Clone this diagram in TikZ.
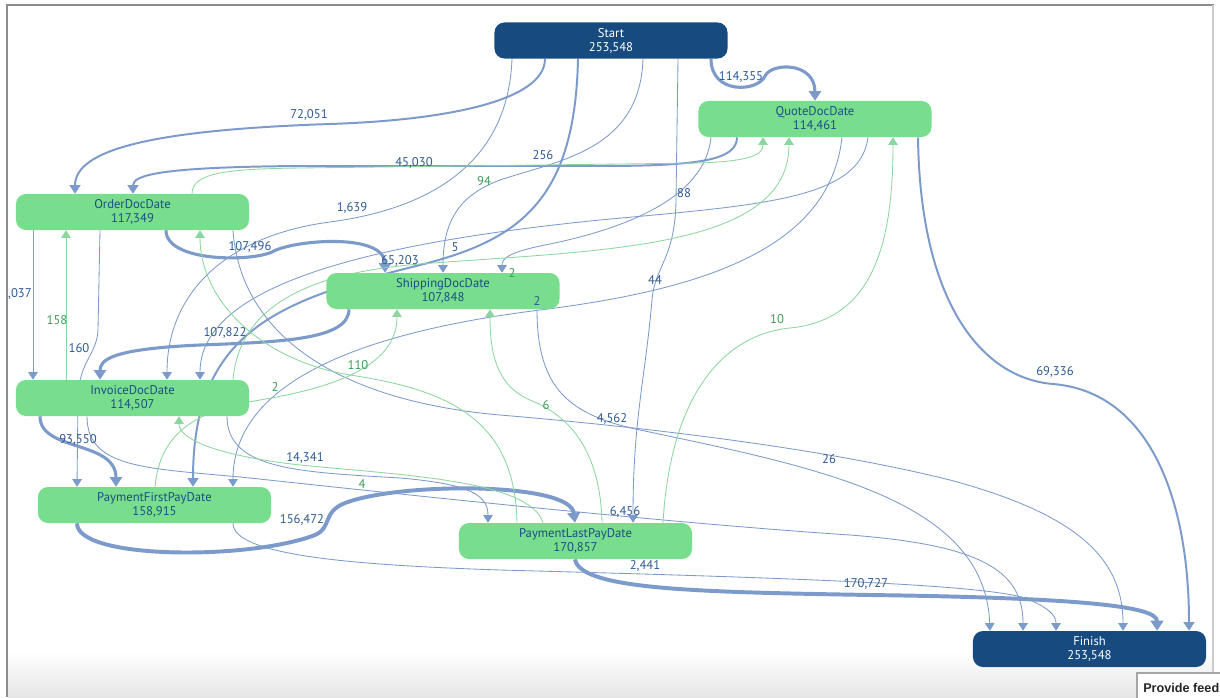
\documentclass[tikz,border=0pt]{standalone}
\usepackage{fontspec}
\setmainfont{PT Sans}
\newfontfamily\btnfont{Liberation Sans}
\usetikzlibrary{arrows.meta,backgrounds}

\definecolor{actgreen}{HTML}{78DD8C}
\definecolor{acttext}{HTML}{1B4F84}
\definecolor{endblue}{HTML}{174A7E}
\definecolor{edgeblue}{HTML}{7C9BCB}
\definecolor{edgegreen}{HTML}{8DD6A0}
\definecolor{lblblue}{HTML}{2E5A94}
\definecolor{lblgreen}{HTML}{3F9D55}

\tikzset{
  act/.style={rectangle, rounded corners=0.25cm, fill=actgreen, text=acttext,
    minimum width=5.825cm, minimum height=0.9cm, inner sep=0pt, align=center,
    font=\fontsize{9}{10}\selectfont},
  ends/.style={act, fill=endblue, text=white},
  fwd/.style={draw=edgeblue, line width=0.6pt, -{Triangle[width=6.3pt 1, length=5pt 0.8]}},
  midfwd/.style={fwd, line width=1.4pt},
  thickfwd/.style={fwd, line width=2.2pt},
  heavyfwd/.style={fwd, line width=2.8pt},
  bwd/.style={draw=edgegreen, line width=0.6pt, -{Triangle[width=6.3pt 1, length=5pt 0.8]}},
  cnt/.style={text=lblblue, font=\fontsize{9}{10}\selectfont, inner sep=1pt},
  bcnt/.style={cnt, text=lblgreen},
}

\begin{document}
\begin{tikzpicture}[x=0.025cm, y=-0.025cm]
  \useasboundingbox (0,0) rectangle (1220,697);

  % activities
  \node[ends] (start)    at (611,40.5)  {Start\\253,548};
  \node[act]  (quote)    at (815,119)   {QuoteDocDate\\114,461};
  \node[act]  (order)    at (132.5,212) {OrderDocDate\\117,349};
  \node[act]  (ship)     at (443,291)   {ShippingDocDate\\107,848};
  \node[act]  (invoice)  at (132.5,398) {InvoiceDocDate\\114,507};
  \node[act]  (payfirst) at (154.5,505) {PaymentFirstPayDate\\158,915};
  \node[act]  (paylast)  at (575.5,541) {PaymentLastPayDate\\170,857};
  \node[ends] (finish)   at (1089.5,649){Finish\\253,548};

  \begin{scope}[on background layer]
    % frame of the view
    \fill[white] (0,0) rectangle (1220,697);
    \shade[top color=white, bottom color=black!10] (8,652) rectangle (1212,697);
    \draw[black!45, line width=1.4pt] (7,697) -- (7,5) -- (1214,5);
    \draw[black!20, line width=1.5pt] (1213,5) -- (1213,697);

    % from Start
    \draw[midfwd] (545,0 |- start.south) .. controls (545,100) and (450,120) .. (330,124)
      .. controls (150,130) and (75,150) .. (75,0 |- order.north);
    \draw[thickfwd] (711,0 |- start.south) .. controls (711,95) and (758,92) .. (765,76)
      .. controls (772,62) and (815,62) .. (815,0 |- quote.north);
    \draw[midfwd] (578,0 |- start.south) .. controls (575,200) and (520,240) .. (420,265)
      .. controls (280,300) and (193,330) .. (193,0 |- payfirst.north);
    \draw[fwd] (512,0 |- start.south) .. controls (508,170) and (420,210) .. (330,222)
      .. controls (230,235) and (167,290) .. (167,0 |- invoice.north);
    \draw[fwd] (643,0 |- start.south) .. controls (640,150) and (560,160) .. (500,180)
      .. controls (460,195) and (443,220) .. (443,0 |- ship.north);
    \draw[fwd] (678,0 |- start.south) -- (676,200) .. controls (675,260) and (655,265) .. (652,300)
      .. controls (645,380) and (633,420) .. (633,0 |- paylast.north);

    % from QuoteDocDate
    \draw[midfwd] (737,0 |- quote.south) .. controls (737,160) and (700,166) .. (600,166)
      -- (300,166) .. controls (160,167) and (133,175) .. (133,0 |- order.north);
    \draw[fwd] (711,0 |- quote.south) .. controls (705,200) and (620,230) .. (545,245)
      .. controls (510,252) and (502,258) .. (502,0 |- ship.north);
    \draw[fwd] (868,0 |- quote.south) .. controls (860,200) and (760,205) .. (600,220)
      .. controls (350,245) and (200,290) .. (200,0 |- invoice.north);
    \draw[fwd] (842,0 |- quote.south) .. controls (830,250) and (700,290) .. (540,310)
      .. controls (340,335) and (233,390) .. (233,0 |- payfirst.north);
    \draw[midfwd] (918,0 |- quote.south) .. controls (920,300) and (980,378) .. (1053,384)
      .. controls (1150,392) and (1189,500) .. (1189,0 |- finish.north);

    % from OrderDocDate
    \draw[fwd] (33,0 |- order.south) -- (33,0 |- invoice.north);
    \draw[fwd] (100,0 |- order.south) -- (98,330) .. controls (97,355) and (78,362) .. (78,400)
      -- (77,0 |- payfirst.north);
    \draw[thickfwd] (166,0 |- order.south) .. controls (166,262) and (250,262) .. (272,252)
      .. controls (292,240) and (385,232) .. (385,0 |- ship.north);
    \draw[fwd] (233,0 |- order.south) .. controls (240,330) and (330,400) .. (500,415)
      .. controls (700,432) and (850,455) .. (950,480)
      .. controls (1080,515) and (1123,560) .. (1123,0 |- finish.north);

    % from ShippingDocDate
    \draw[thickfwd] (349,0 |- ship.south) .. controls (349,340) and (280,342) .. (200,345)
      .. controls (110,349) and (100,360) .. (100,0 |- invoice.north);
    \draw[fwd] (537,0 |- ship.south) .. controls (537,390) and (570,415) .. (640,430)
      .. controls (820,468) and (985,500) .. (990,0 |- finish.north);

    % from InvoiceDocDate
    \draw[thickfwd] (40,0 |- invoice.south) .. controls (40,452) and (116,440) .. (116,0 |- payfirst.north);
    \draw[fwd] (87,0 |- invoice.south) .. controls (87,470) and (150,468) .. (250,478)
      .. controls (500,505) and (700,525) .. (850,535)
      .. controls (980,545) and (1023,570) .. (1023,0 |- finish.north);
    \draw[fwd] (227,0 |- invoice.south) .. controls (227,470) and (300,472) .. (400,478)
      .. controls (470,484) and (488,495) .. (488,0 |- paylast.north);

    % from the payments
    \draw[heavyfwd] (77,0 |- payfirst.south) .. controls (77,560) and (250,560) .. (315,535)
      .. controls (332,528) and (322,512) .. (345,503)
      .. controls (400,482) and (570,482) .. (575,0 |- paylast.north);
    \draw[fwd] (233,0 |- payfirst.south) .. controls (233,555) and (350,565) .. (500,570)
      .. controls (800,578) and (1000,585) .. (1030,600)
      .. controls (1048,608) and (1056,615) .. (1056,0 |- finish.north);
    \draw[heavyfwd] (575,0 |- paylast.south) .. controls (580,590) and (700,592) .. (870,595)
      .. controls (1100,598) and (1157,608) .. (1157,0 |- finish.north);

    % going back
    \draw[bwd] (66,0 |- invoice.north) -- (66,0 |- order.south);
    \draw[bwd] (192,0 |- order.north) .. controls (192,172) and (230,169) .. (300,168)
      -- (700,163) .. controls (750,161) and (763,155) .. (763,0 |- quote.south);
    \draw[bwd] (517,0 |- paylast.north) .. controls (515,420) and (450,390) .. (350,375)
      .. controls (260,360) and (200,300) .. (200,0 |- order.south);
    \draw[bwd] (155,0 |- payfirst.north) .. controls (160,430) and (200,410) .. (260,400)
      .. controls (350,385) and (397,360) .. (397,0 |- ship.south);
    \draw[bwd] (543,0 |- paylast.north) .. controls (530,480) and (400,475) .. (300,465)
      .. controls (220,456) and (179,440) .. (179,0 |- invoice.south);
    \draw[bwd] (602,0 |- paylast.north) .. controls (600,440) and (560,412) .. (530,400)
      .. controls (495,385) and (490,350) .. (490,0 |- ship.south);
    \draw[bwd] (663,0 |- paylast.north) .. controls (670,400) and (720,335) .. (790,328)
      .. controls (870,320) and (893,250) .. (893,0 |- quote.south);
    \draw[bwd] (233,0 |- invoice.north) .. controls (240,300) and (320,272) .. (420,264)
      .. controls (600,250) and (789,250) .. (789,0 |- quote.south);
  \end{scope}

  % counts
  \node[cnt]  (c72051)  at (309,115) {72,051};
  \node[cnt]  (c114355) at (741,77)  {114,355};
  \node[cnt]  (c45030)  at (414,163) {45,030};
  \node[cnt]  (c256)    at (543,155) {256};
  \node[bcnt] (c94)     at (484,181) {94};
  \node[cnt]  (c1639)   at (352,208) {1,639};
  \node[cnt]  (c88)     at (684,193) {88};
  \node[cnt]  (c107496) at (250,247) {107,496};
  \node[cnt]  (c65203)  at (400,261) {65,203};
  \node[cnt]  (c5)      at (455,247) {5};
  \node[bcnt] (c2a)     at (512,273) {2};
  \node[cnt]  (c2b)     at (537,301) {2};
  \node[cnt]  (c037)    at (20,294)  {,037};
  \node[bcnt] (c158)    at (57,320)  {158};
  \node[cnt]  (c160)    at (79,348)  {160};
  \node[cnt]  (c107822) at (225,333) {107,822};
  \node[bcnt] (c110)    at (358,365) {110};
  \node[bcnt] (c2c)     at (275,387) {2};
  \node[cnt]  (c44)     at (655,280) {44};
  \node[bcnt] (c10)     at (777,319) {10};
  \node[bcnt] (c6)      at (546,405) {6};
  \node[cnt]  (c4562)   at (612,419) {4,562};
  \node[cnt]  (c69336)  at (1055,372){69,336};
  \node[cnt]  (c93550)  at (78,440)  {93,550};
  \node[cnt]  (c14341)  at (305,458) {14,341};
  \node[bcnt] (c4)      at (362,484) {4};
  \node[cnt]  (c26)     at (829,459) {26};
  \node[cnt]  (c6456)   at (625,512) {6,456};
  \node[cnt]  (c156472) at (302,520) {156,472};
  \node[cnt]  (c2441)   at (645,566) {2,441};
  \node[cnt]  (c170727) at (866,584) {170,727};

  % button in the corner
  \draw[black!35, fill=white, line width=0.8pt] (1137,673) rectangle (1240,705);
  \node[anchor=base west, inner sep=0pt, text=black!85, font=\btnfont\bfseries\fontsize{9}{11}\selectfont]
    (feedback) at (1143,692) {Provide feed};
\end{tikzpicture}
\end{document}
